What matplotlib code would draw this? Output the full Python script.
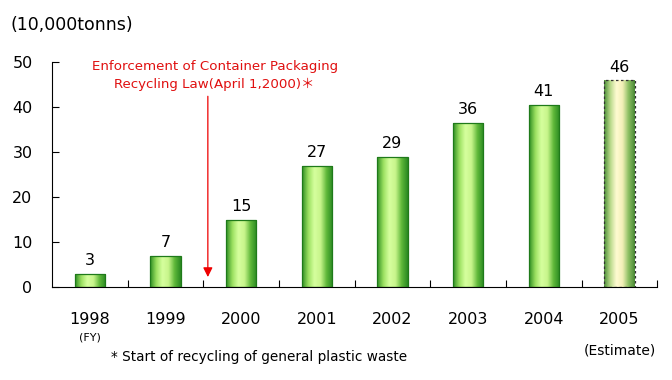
import matplotlib.pyplot as plt
import numpy as np
from matplotlib.colors import LinearSegmentedColormap

years = ['1998', '1999', '2000', '2001', '2002', '2003', '2004', '2005']
values = [3, 7, 15, 27, 29, 36.5, 40.5, 46]
labels = ['3', '7', '15', '27', '29', '36', '41', '46']

fig = plt.figure(figsize=(6.72, 3.8), dpi=100)
ax = fig.add_axes([0.0774, 0.2447, 0.9006, 0.5921])

x = np.arange(len(years))
bars = ax.bar(x, values, width=0.4, color='none', edgecolor='none', zorder=2)

green = LinearSegmentedColormap.from_list('g', ['#2f8f24', '#9be060', '#d6ff9e', '#c8f58c', '#5fb83a', '#2a8a22'])
pale = LinearSegmentedColormap.from_list('p', ['#4f8f3a', '#b9d98a', '#fffbd2', '#f4f0b8', '#8cbf62', '#4a8a36'])
grad = np.linspace(0, 1, 64).reshape(1, -1)

for i, b in enumerate(bars):
    x0, w, h = b.get_x(), b.get_width(), b.get_height()
    cmap = pale if i == len(bars) - 1 else green
    im = ax.imshow(grad, cmap=cmap, aspect='auto', extent=[x0, x0 + w, 0, h],
                   interpolation='bicubic', zorder=2)
    im.set_clip_path(b)
    if i == len(bars) - 1:
        ax.add_patch(plt.Rectangle((x0, 0), w, h, fill=False, edgecolor='#333333',
                                   linestyle=(0, (2, 2)), linewidth=0.9, zorder=3))
    else:
        ax.add_patch(plt.Rectangle((x0, 0), w, h, fill=False, edgecolor='#1f7a1a',
                                   linewidth=0.9, zorder=3))
    ax.text(x[i], h + 1.2, labels[i], ha='center', va='bottom', fontsize=11.5)

ax.set_xlim(-0.5, len(years) - 0.5)
ax.set_ylim(0, 50)
ax.set_yticks([0, 10, 20, 30, 40, 50])
ax.tick_params(axis='y', direction='in', length=5, pad=14, labelsize=11.5)
ax.set_xticks(x + 0.5, minor=False)
ax.set_xticklabels([])
ax.tick_params(axis='x', direction='in', length=5)
for i, yr in enumerate(years):
    ax.text(x[i], -5.5, yr, ha='center', va='top', fontsize=11.5)
ax.text(x[0], -10.0, '(FY)', ha='center', va='top', fontsize=8)
ax.text(x[-1], -12.6, '(Estimate)', ha='center', va='top', fontsize=10)
ax.text(0.28, -14.0, '* Start of recycling of general plastic waste', ha='left', va='top', fontsize=9.8)

ax.spines['top'].set_visible(False)
ax.spines['right'].set_visible(False)

# law enforcement arrow
ax.annotate('', xy=(1.56, 1.6), xytext=(1.56, 43),
            arrowprops=dict(arrowstyle='-|>', color='#ee0000', lw=0.9, mutation_scale=14))
ax.text(1.65, 47.0, 'Enforcement of Container Packaging\nRecycling Law(April 1,2000)＊',
        ha='center', va='center', color='#e01010', fontsize=9.6, linespacing=1.5,
        family=['DejaVu Sans', 'Noto Sans CJK JP'])

fig.text(0.015, 0.935, '(10,000tonns)', ha='left', va='center', fontsize=12.5)

fig.savefig('out.png', dpi=100)
